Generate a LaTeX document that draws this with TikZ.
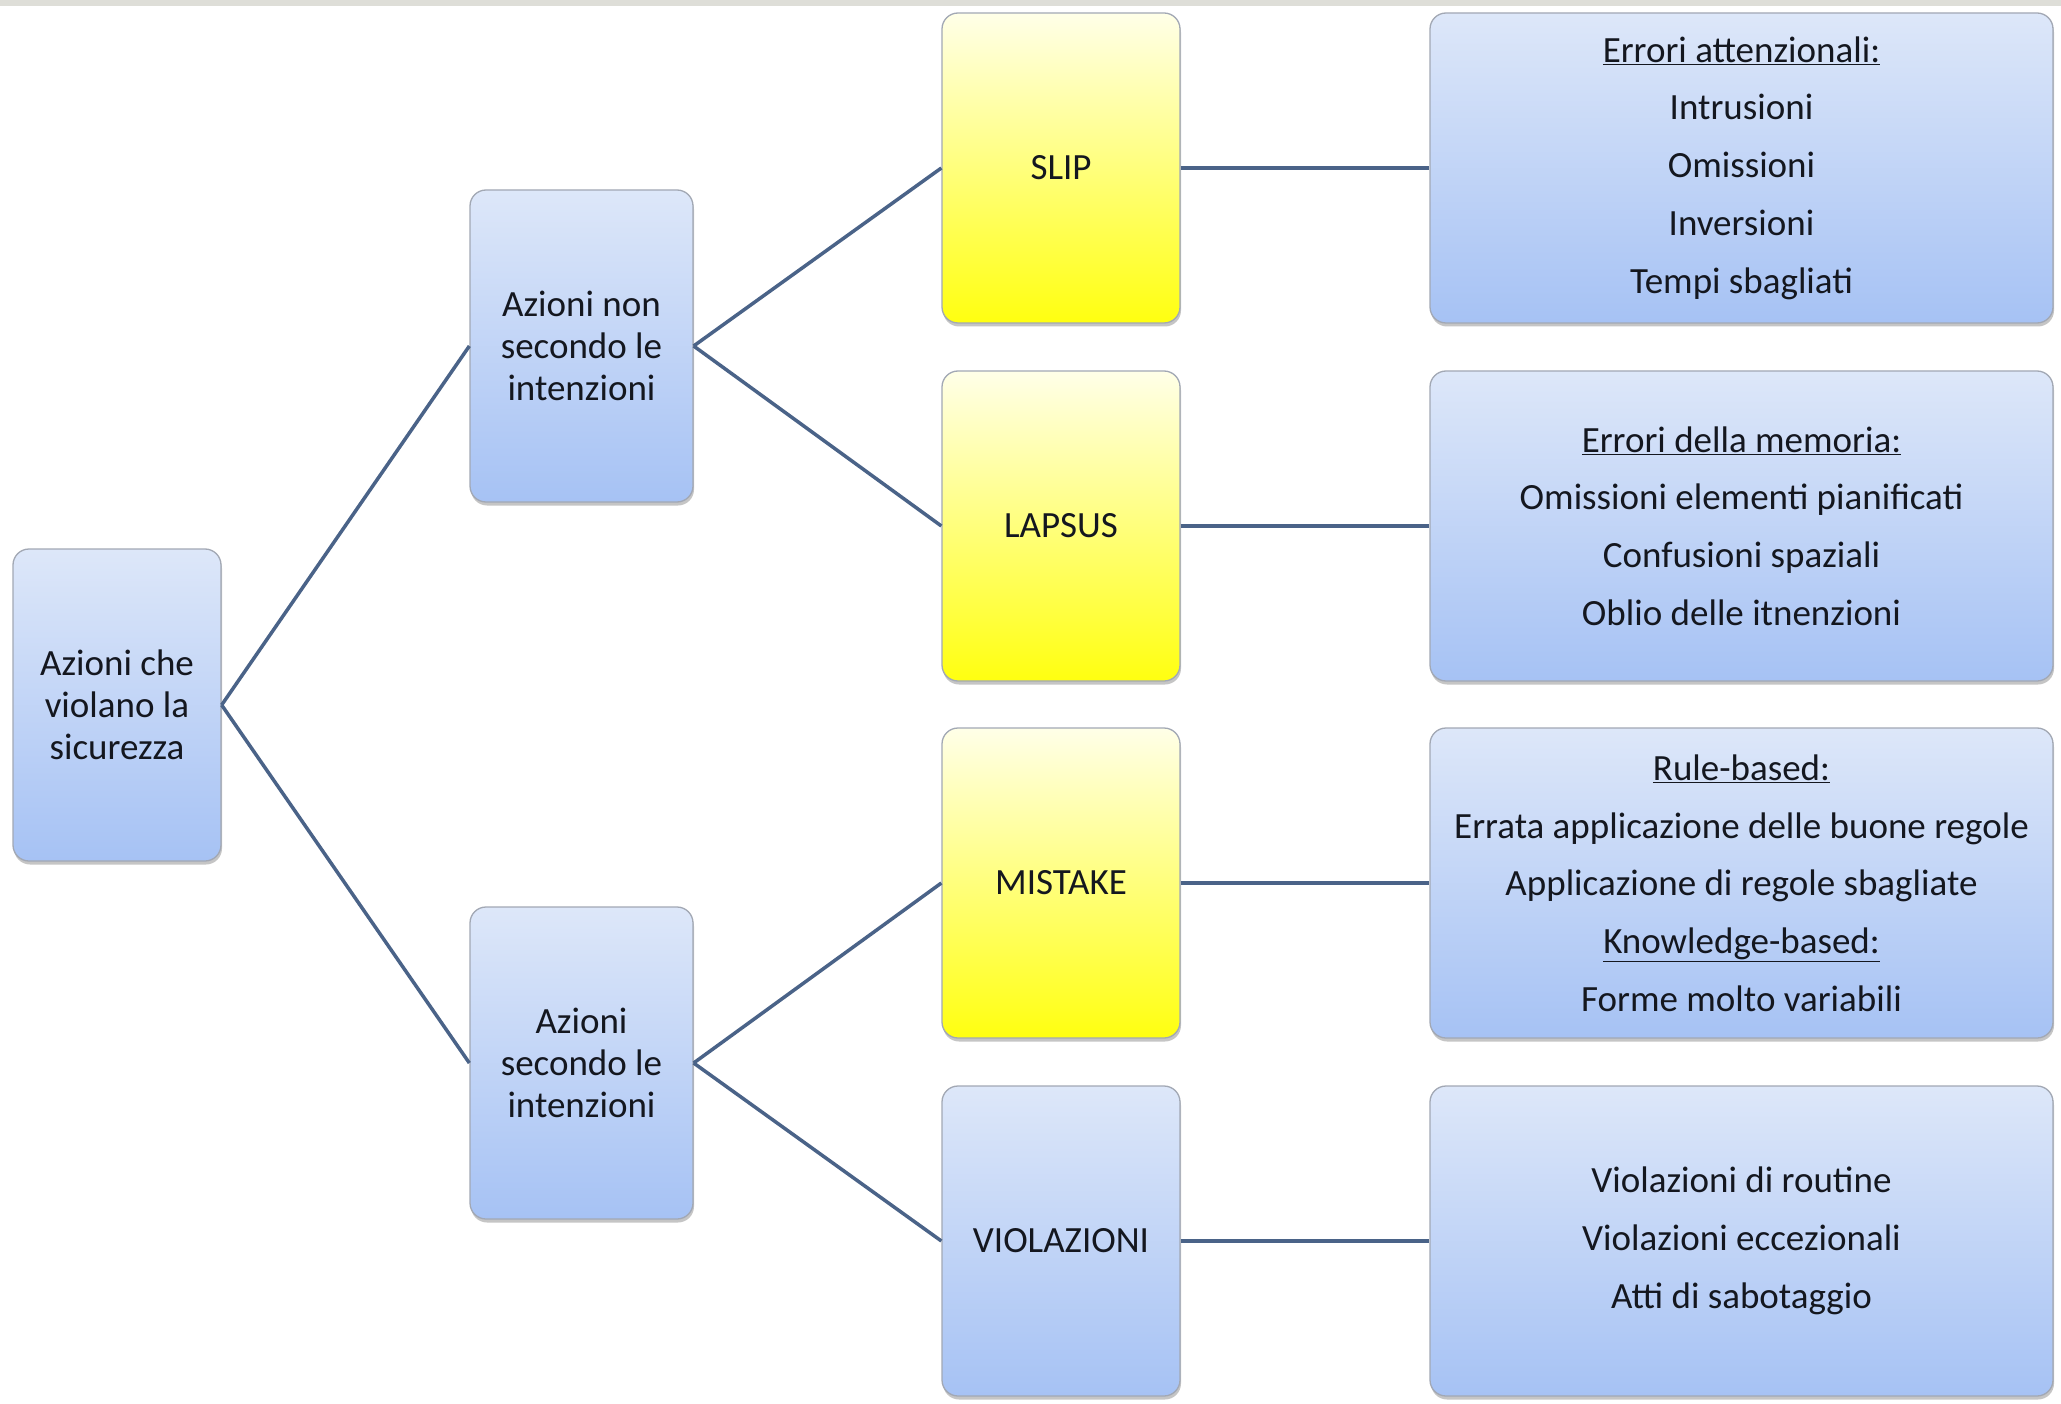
\documentclass[tikz,border=0pt]{standalone}
\usepackage{fontspec}
\setmainfont{Carlito}
\usetikzlibrary{shadows}
\definecolor{linec}{HTML}{4A6388}
\definecolor{bordc}{HTML}{A2A8B4}
\definecolor{bluetop}{HTML}{DDE7F9}
\definecolor{bluebot}{HTML}{A6C2F4}
\definecolor{yeltop}{HTML}{FFFFE8}
\definecolor{yelbot}{HTML}{FFFF10}
\definecolor{txtc}{HTML}{14171F}
\definecolor{stripc}{HTML}{DEDED8}
\tikzset{
  boxbase/.style={rectangle, rounded corners=16pt, draw=bordc, line width=1.3pt,
    drop shadow={shadow xshift=1pt, shadow yshift=-3.5pt, opacity=0.45},
    align=center, text=txtc, inner sep=4pt},
  bluebox/.style={boxbase, top color=bluetop, bottom color=bluebot},
  yelbox/.style={boxbase, top color=yeltop, bottom color=yelbot},
  smallbox/.style={minimum width=208pt, minimum height=312pt, font=\fontsize{37}{42}\selectfont},
  midbox/.style={minimum width=223pt, minimum height=312pt, font=\fontsize{37}{42}\selectfont},
  catbox/.style={minimum width=238pt, minimum height=310pt, font=\fontsize{37}{42}\selectfont},
  detbox/.style={minimum width=623pt, minimum height=310pt, font=\fontsize{37}{57.7}\selectfont},
  conn/.style={draw=linec, line width=3.5pt}
}
\begin{document}
\begin{tikzpicture}[x=1pt,y=-1pt]
\useasboundingbox (0,0) rectangle (2061,1404);
\fill[white] (0,0) rectangle (2061,1404);
\fill[stripc] (0,0) rectangle (2061,6);

\node[bluebox, smallbox] (root) at (117,705) {Azioni che\\violano la\\sicurezza};
\node[bluebox, midbox] (non) at (581.5,346) {Azioni non\\secondo le\\intenzioni};
\node[bluebox, midbox] (sec) at (581.5,1063) {Azioni\\secondo le\\intenzioni};

\node[yelbox, catbox] (slip) at (1061,168) {SLIP};
\node[yelbox, catbox] (lapsus) at (1061,526) {LAPSUS};
\node[yelbox, catbox] (mistake) at (1061,883) {MISTAKE};
\node[bluebox, catbox] (viol) at (1061,1241) {VIOLAZIONI};

\node[bluebox, detbox] (d1) at (1741.5,168) {\underline{Errori attenzionali:}\\Intrusioni\\Omissioni\\Inversioni\\Tempi sbagliati};
\node[bluebox, detbox] (d2) at (1741.5,526) {\underline{Errori della memoria:}\\Omissioni elementi pianificati\\Confusioni spaziali\\Oblio delle itnenzioni};
\node[bluebox, detbox] (d3) at (1741.5,883) {\underline{Rule-based:}\\Errata applicazione delle buone regole\\Applicazione di regole sbagliate\\\underline{Knowledge-based:}\\Forme molto variabili};
\node[bluebox, detbox] (d4) at (1741.5,1241) {Violazioni di routine\\Violazioni eccezionali\\Atti di sabotaggio};

\path[conn] (root.east) -- (non.west);
\path[conn] (root.east) -- (sec.west);
\path[conn] (non.east) -- (slip.west);
\path[conn] (non.east) -- (lapsus.west);
\path[conn] (sec.east) -- (mistake.west);
\path[conn] (sec.east) -- (viol.west);
\path[conn] (slip.east) -- (d1.west);
\path[conn] (lapsus.east) -- (d2.west);
\path[conn] (mistake.east) -- (d3.west);
\path[conn] (viol.east) -- (d4.west);
\end{tikzpicture}
\end{document}
